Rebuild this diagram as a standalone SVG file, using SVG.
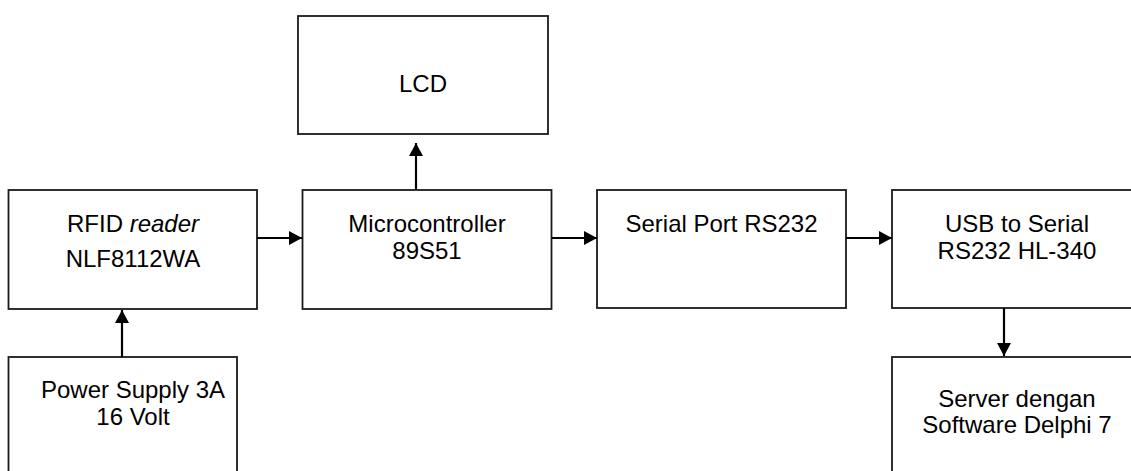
<svg xmlns="http://www.w3.org/2000/svg" width="1131" height="471" viewBox="0 0 1131 471">
<defs>
<marker id="ah" markerWidth="14" markerHeight="14" refX="13" refY="7" orient="auto" markerUnits="userSpaceOnUse">
<path d="M0,0 L13,7 L0,14 Z" fill="#000"/>
</marker>
<style>
.box{fill:#fff;stroke:#1a1a1a;stroke-width:1.8}
.t{font-family:"Liberation Sans",Arial,sans-serif;font-size:24px;fill:#000;text-anchor:middle}
.c{stroke:#000;stroke-width:2.2;fill:none;marker-end:url(#ah)}
</style>
</defs>
<rect width="1131" height="471" fill="#fff"/>
<g id="lcd"><rect class="box" x="298" y="16" width="250" height="118"/><text class="t" x="423" y="92">LCD</text></g>
<g id="rfid"><rect class="box" x="8.5" y="190" width="248.5" height="119"/><text class="t" x="133" y="232">RFID <tspan font-style="italic">reader</tspan></text><text class="t" x="133" y="267">NLF8112WA</text></g>
<g id="micro"><rect class="box" x="302.5" y="190" width="249" height="119"/><text class="t" x="427" y="232">Microcontroller</text><text class="t" x="427" y="259">89S51</text></g>
<g id="serial"><rect class="box" x="597" y="190" width="249" height="118"/><text class="t" x="721.5" y="232">Serial Port RS232</text></g>
<g id="usb"><rect class="box" x="892" y="190" width="250" height="118"/><text class="t" x="1017" y="232">USB to Serial</text><text class="t" x="1017" y="259">RS232 HL-340</text></g>
<g id="power"><rect class="box" x="8.5" y="357" width="228.5" height="130"/><text class="t" x="133" y="398">Power Supply 3A</text><text class="t" x="133" y="425">16 Volt</text></g>
<g id="server"><rect class="box" x="892" y="357" width="250" height="130"/><text class="t" x="1017" y="407">Server dengan</text><text class="t" x="1017" y="433">Software Delphi 7</text></g>
<g id="connectors">
<line class="c" x1="257" y1="238" x2="302" y2="238"/>
<line class="c" x1="552" y1="238" x2="597" y2="238"/>
<line class="c" x1="846" y1="238" x2="892" y2="238"/>
<line class="c" x1="416" y1="190" x2="416" y2="143"/>
<line class="c" x1="122" y1="357" x2="122" y2="310"/>
<line class="c" x1="1004" y1="308" x2="1004" y2="356"/>
</g>
</svg>
